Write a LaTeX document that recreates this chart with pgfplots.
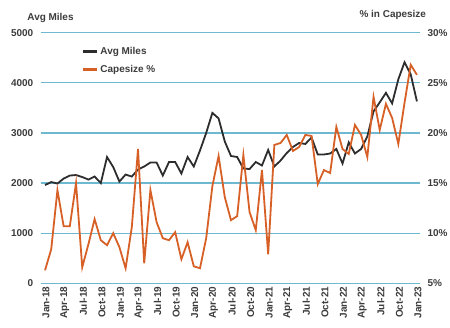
\documentclass[border=0pt]{standalone}
\usepackage{fontspec}
\setmainfont{Liberation Sans}
\usepackage{pgfplots}
\usepackage{pgfplotstable}
\pgfplotsset{compat=1.18}
\definecolor{gridc}{RGB}{110,185,208}
\definecolor{txt}{RGB}{60,60,60}
\definecolor{miles}{RGB}{45,45,45}
\definecolor{cape}{RGB}{214,96,38}
\pgfplotstableread{
m miles cape
0 1960 6.3
1 2020 8.4
2 1990 14.3
3 2090 10.7
4 2150 10.7
5 2160 15.0
6 2120 6.6
7 2070 8.9
8 2130 11.4
9 2000 9.3
10 2520 8.8
11 2320 10.0
12 2030 8.6
13 2170 6.5
14 2130 10.6
15 2270 18.4
16 2330 7.0
17 2410 14.3
18 2410 11.1
19 2150 9.5
20 2420 9.3
21 2420 10.1
22 2190 7.4
23 2520 9.1
24 2330 6.7
25 2650 6.5
26 3000 9.5
27 3400 14.7
28 3290 17.7
29 2830 13.6
30 2540 11.3
31 2520 11.7
32 2290 17.8
33 2280 12.1
34 2420 10.3
35 2350 16.3
36 2660 7.9
37 2330 18.8
38 2450 19.0
39 2600 19.8
40 2720 18.2
41 2800 18.6
42 2780 19.8
43 2910 19.7
44 2570 14.9
45 2570 16.3
46 2590 16.0
47 2680 20.6
48 2390 18.4
49 2810 17.9
50 2590 20.8
51 2680 19.8
52 2930 17.6
53 3430 23.6
54 3610 20.3
55 3800 22.9
56 3590 21.5
57 4070 18.9
58 4410 23.0
59 4170 26.8
60 3630 25.8
}\datatable
\begin{document}
\begin{tikzpicture}[x=1bp,y=1bp]
\path[use as bounding box] (0,0) rectangle (450,327);
\pgfplotsset{
  common/.style={
    at={(40.7bp,43.7bp)}, anchor=south west,
    scale only axis, width=379.3bp, height=250.6bp,
    xmin=-0.7, xmax=60.5,
    axis line style={draw=none},
    major tick length=0pt,
    tick label style={font=\bfseries\fontsize{10}{12}\selectfont, text=txt},
  }
}
\begin{axis}[common,
  ymin=0, ymax=5000,
  ytick={0,1000,2000,3000,4000,5000},
  yticklabels={0,1000,2000,3000,4000,5000},
  ytick pos=left, xtick pos=bottom,
  yticklabel style={xshift=-4bp},
  xtick={0,3,...,60},
  xticklabels={Jan-18,Apr-18,Jul-18,Oct-18,Jan-19,Apr-19,Jul-19,Oct-19,Jan-20,Apr-20,Jul-20,Oct-20,Jan-21,Apr-21,Jul-21,Oct-21,Jan-22,Apr-22,Jul-22,Oct-22,Jan-23},
  xticklabel style={rotate=90, anchor=east, yshift=-1bp},
  ymajorgrids, grid style={gridc, line width=1.2bp},
  legend style={at={(0.109,0.951)}, anchor=north west, draw=none, fill=none,
    font=\bfseries\fontsize{10}{12}\selectfont, text=txt, inner sep=0pt, row sep=5.3bp},
  legend cell align=left,
  legend image code/.code={\draw[#1, line width=2.2bp] (0bp,0bp) -- (14bp,0bp);},
]
\addplot[miles, line width=1.8bp] table[x=m, y=miles] {\datatable};
\addlegendentry{Avg Miles}
\addlegendimage{cape, line width=1.8bp}
\addlegendentry{Capesize \%}
\end{axis}
\begin{axis}[common,
  ymin=5, ymax=30,
  ytick={5,10,15,20,25,30},
  yticklabels={5\%,10\%,15\%,20\%,25\%,30\%},
  ytick pos=right,
  yticklabel style={xshift=4bp},
  xtick=\empty,
]
\addplot[cape, line width=1.8bp] table[x=m, y=cape] {\datatable};
\end{axis}
\node[font=\bfseries\fontsize{10}{12}\selectfont, text=txt] at (50.5,309.5) {Avg Miles};
\node[font=\bfseries\fontsize{10}{12}\selectfont, text=txt] at (392.8,312) {\% in Capesize};
\end{tikzpicture}
\end{document}
